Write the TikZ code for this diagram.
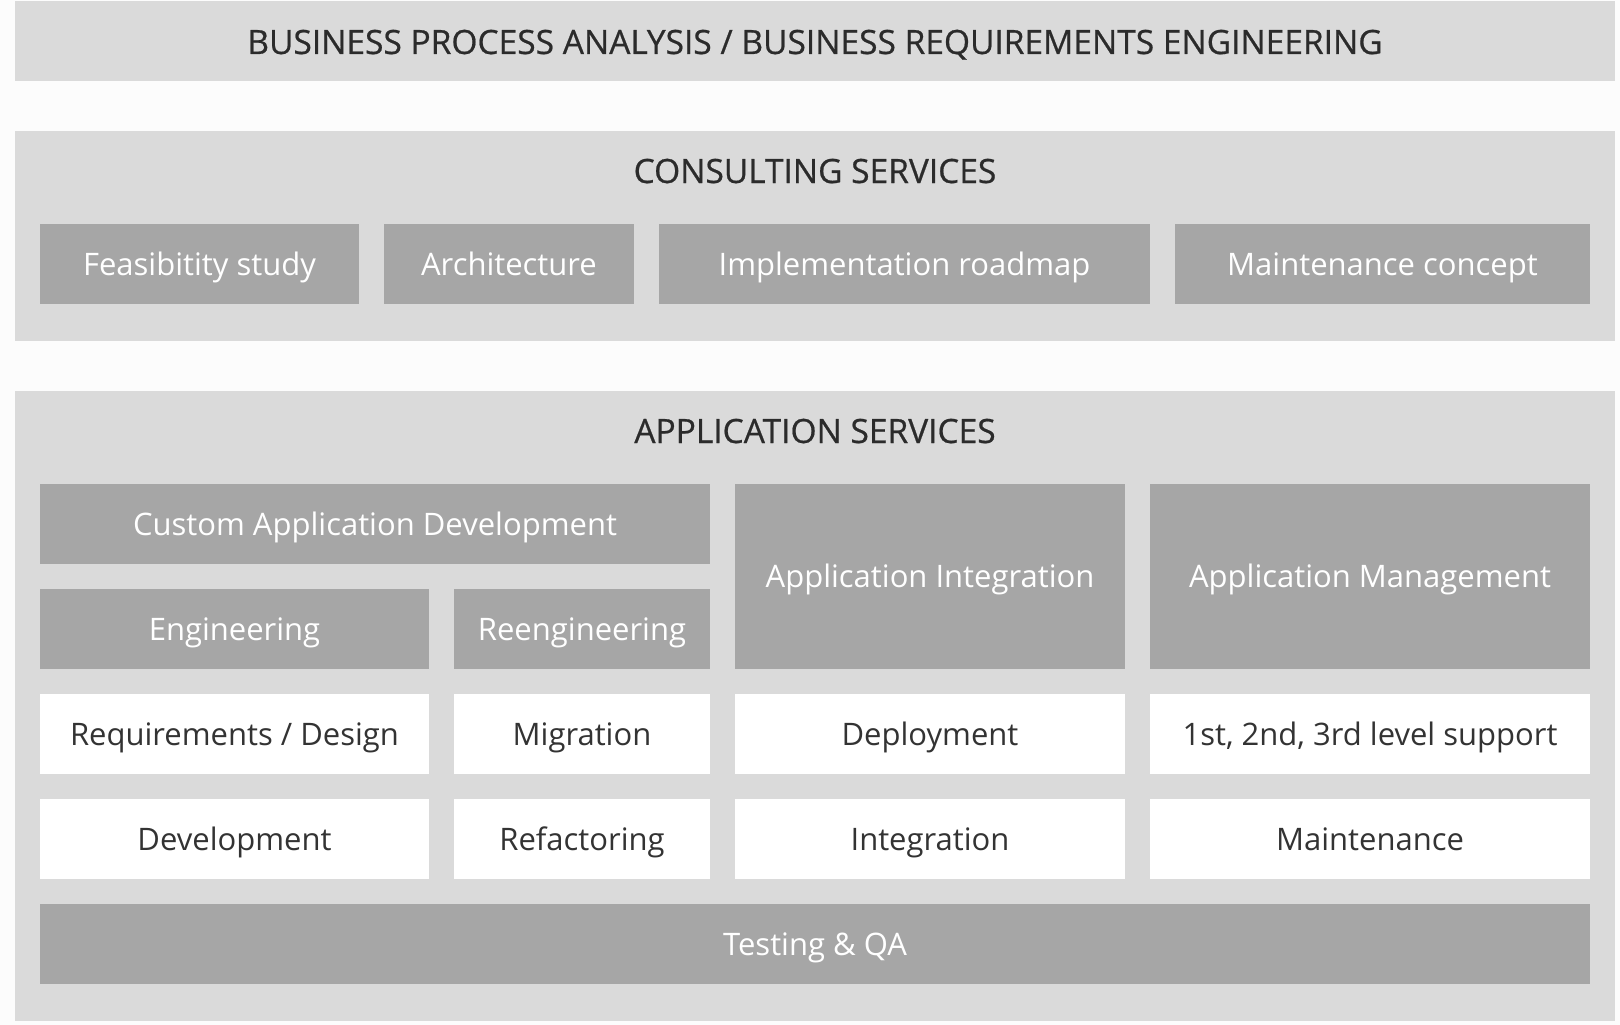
\documentclass[tikz,border=0pt]{standalone}
\usepackage{fontspec}
\setmainfont{Open Sans}
\newfontfamily\titlefont{Open Sans}[FakeBold=0.6]
\definecolor{bgc}{HTML}{FCFCFC}
\definecolor{panelc}{HTML}{DADADA}
\definecolor{boxc}{HTML}{A6A6A6}
\definecolor{txtc}{HTML}{333333}
\definecolor{titlec}{HTML}{2B2B2B}
\tikzset{
  base/.style={inner sep=0pt, outer sep=0pt, text height=22.5pt, text depth=0pt,
    font=\fontsize{31}{37}\selectfont, align=center},
  titletext/.style={base, text=titlec, font=\titlefont\fontsize{33.5}{40}\selectfont},
  panel/.style={base, fill=panelc, titletext},
  greybox/.style={base, fill=boxc, text=white},
  whitebox/.style={base, fill=white, text=txtc},
}
\newcommand{\bx}[7]{% name, style, x1, y1, x2, y2, text
  \node[#2, minimum width={(#5-#3)*1pt}, minimum height={(#6-#4)*1pt}]
    (#1) at ({(#3+#5)/2}, {(#4+#6)/2}) {#7};}
\begin{document}
\begin{tikzpicture}[x=1pt, y=-1pt]
\useasboundingbox (0,0) rectangle (1620,1025);
\fill[bgc] (0,0) rectangle (1620,1025);
% top band
\fill[panelc] (15,1) rectangle (1615,81);
\node[titletext, anchor=base] (bpa) at (815,54) {BUSINESS PROCESS ANALYSIS / BUSINESS REQUIREMENTS ENGINEERING};
% consulting panel
\fill[panelc] (15,131) rectangle (1615,341);
\node[titletext, anchor=base] (cs) at (815,183) {CONSULTING SERVICES};
\bx{feas}{greybox}{40}{224}{359}{304}{Feasibitity study}
\bx{arch}{greybox}{384}{224}{634}{304}{Architecture}
\bx{impl}{greybox}{659}{224}{1150}{304}{Implementation roadmap}
\bx{mconc}{greybox}{1175}{224}{1590}{304}{Maintenance concept}
% application panel
\fill[panelc] (15,391) rectangle (1615,1021);
\node[titletext, anchor=base] (as) at (815,443) {APPLICATION SERVICES};
\bx{cad}{greybox}{40}{484}{710}{564}{Custom Application Development}
\bx{ai}{greybox}{735}{484}{1125}{669}{Application Integration}
\bx{am}{greybox}{1150}{484}{1590}{669}{Application Management}
\bx{eng}{greybox}{40}{589}{429}{669}{Engineering}
\bx{reeng}{greybox}{454}{589}{710}{669}{Reengineering}
\bx{req}{whitebox}{40}{694}{429}{774}{Requirements / Design}
\bx{mig}{whitebox}{454}{694}{710}{774}{Migration}
\bx{dep}{whitebox}{735}{694}{1125}{774}{Deployment}
\bx{sup}{whitebox}{1150}{694}{1590}{774}{1st, 2nd, 3rd level support}
\bx{dev}{whitebox}{40}{799}{429}{879}{Development}
\bx{ref}{whitebox}{454}{799}{710}{879}{Refactoring}
\bx{int}{whitebox}{735}{799}{1125}{879}{Integration}
\bx{mnt}{whitebox}{1150}{799}{1590}{879}{Maintenance}
\bx{test}{greybox}{40}{904}{1590}{984}{Testing \& QA}
\end{tikzpicture}
\end{document}
